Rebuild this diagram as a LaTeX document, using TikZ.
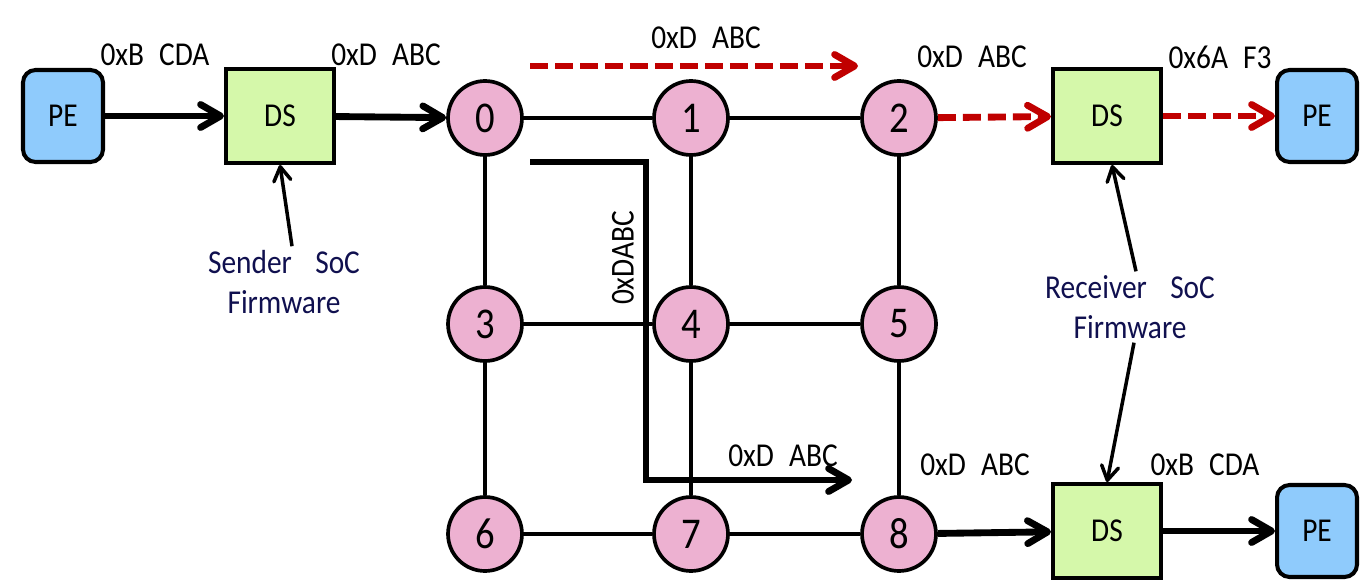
\documentclass[tikz,border=0pt]{standalone}
\usepackage{fontspec}
\setmainfont{Carlito}[FakeStretch=0.88]
\usetikzlibrary{arrows.meta}
\definecolor{peblue}{HTML}{8FCBFC}
\definecolor{dsgreen}{HTML}{D5F8AA}
\definecolor{nodepink}{HTML}{EDB1D1}
\definecolor{pathred}{HTML}{C00000}
\definecolor{fwnavy}{HTML}{10104F}
\begin{document}
\begin{tikzpicture}[x=0.02cm, y=-0.02cm,
    router/.style={circle, draw, line width=2.1pt, fill=nodepink, minimum size=1.48cm, inner sep=0pt, font=\fontsize{25}{25}\selectfont},
    pe/.style={draw, rounded corners=0.25cm, line width=2.3pt, fill=peblue, minimum width=1.6cm, minimum height=1.84cm, font=\fontsize{19}{19}\selectfont},
    ds/.style={draw, line width=2.3pt, fill=dsgreen, minimum width=2.16cm, minimum height=1.88cm, font=\fontsize{19}{19}\selectfont},
    lbl/.style={font=\fontsize{19}{22}\selectfont, inner sep=1pt},
    fw/.style={text=fwnavy, align=center, font=\fontsize{19}{23}\selectfont, inner sep=2pt},
    link/.style={line width=2pt},
    flow/.style={line width=3.9pt, -{Straight Barb[length=4mm,width=4.6mm,round]}},
    redflow/.style={flow, pathred, dash pattern=on 0.36cm off 0.14cm},
    cfg/.style={line width=2pt, -{Straight Barb[length=2.8mm,width=3.4mm,round]}}]
    \useasboundingbox (0,0) rectangle (1361,581);

    % mesh of routers
    \node[router] (n0) at (485,118) {0};
    \node[router] (n1) at (691,118) {1};
    \node[router] (n2) at (899,118) {2};
    \node[router] (n3) at (485,324) {3};
    \node[router] (n4) at (691,324) {4};
    \node[router] (n5) at (899,324) {5};
    \node[router] (n6) at (485,534) {6};
    \node[router] (n7) at (691,534) {7};
    \node[router] (n8) at (899,534) {8};
    \draw[link] (n0) -- (n1);
    \draw[link] (n1) -- (n2);
    \draw[link] (n3) -- (n4);
    \draw[link] (n4) -- (n5);
    \draw[link] (n6) -- (n7);
    \draw[link] (n7) -- (n8);
    \draw[link] (n0) -- (n3);
    \draw[link] (n3) -- (n6);
    \draw[link] (n1) -- (n4);
    \draw[link] (n4) -- (n7);
    \draw[link] (n2) -- (n5);
    \draw[link] (n5) -- (n8);

    % endpoints
    \node[pe] (pe1) at (63,116) {PE};
    \node[ds] (ds1) at (280,116) {DS};
    \node[ds] (ds2) at (1107,116) {DS};
    \node[pe] (pe2) at (1317,116) {PE};
    \node[ds] (ds3) at (1107,531) {DS};
    \node[pe] (pe3) at (1317,531) {PE};

    \draw[flow] (pe1) -- (ds1);
    \draw[flow] (ds1) -- (n0);
    \draw[redflow] (n2) -- (ds2);
    \draw[redflow] (ds2) -- (pe2);
    \draw[flow] (n8) -- (ds3);
    \draw[flow] (ds3) -- (pe3);

    \node[lbl] at (155,55) {0xB\hspace{0.45em}CDA};
    \node[lbl] at (386,55) {0xD\hspace{0.45em}ABC};
    \node[lbl] at (972,57) {0xD\hspace{0.45em}ABC};
    \node[lbl] at (1220,57) {0x6A\hspace{0.45em}F3};
    \node[lbl] at (975,465) {0xD\hspace{0.45em}ABC};
    \node[lbl] at (1205,465) {0xB\hspace{0.45em}CDA};

    % routed packet paths
    \coordinate (rs) at (530,66);
    \coordinate (re) at (858,66);
    \draw[redflow] (rs) -- (re);
    \node[lbl] at (706,38) {0xD\hspace{0.45em}ABC};

    \coordinate (ls) at (530,162);
    \coordinate (lc) at (646,480);
    \coordinate (le) at (852,480);
    \draw[flow] (ls) -| (lc) -- (le);
    \node[lbl, rotate=90] at (623,258) {0xDABC};
    \node[lbl] at (783,456) {0xD\hspace{0.45em}ABC};

    % firmware
    \node[fw] (sfw) at (284,282) {Sender\hspace{0.7em}SoC\\Firmware};
    \node[fw] (rfw) at (1130,307) {Receiver\hspace{0.7em}SoC\\Firmware};
    \draw[cfg] ([xshift=0.16cm]sfw.north) -- (ds1.south);
    \draw[cfg] ([xshift=0.12cm]rfw.north) -- ([xshift=0.1cm]ds2.south);
    \draw[cfg] ([xshift=0.08cm]rfw.south) -- (ds3.north);
\end{tikzpicture}
\end{document}
